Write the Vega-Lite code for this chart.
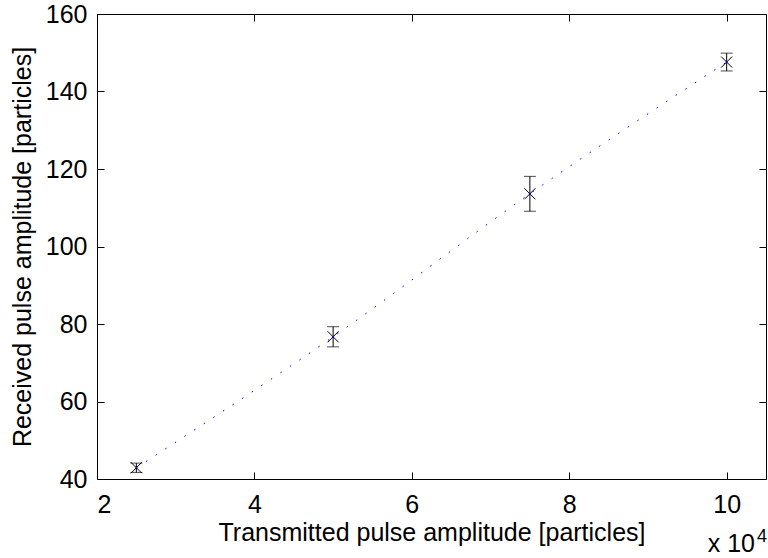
{
  "$schema": "https://vega.github.io/schema/vega-lite/v6.json",
  "width": 669,
  "height": 465,
  "autosize": "none",
  "padding": {"left": 97, "top": 14, "right": 2, "bottom": 79},
  "background": "white",
  "config": {
    "font": "Liberation Sans",
    "view": {"stroke": "black", "strokeWidth": 1},
    "text": {"fontWeight": "normal"},
    "axis": {
      "grid": false,
      "domain": false,
      "tickColor": "black",
      "tickSize": -7,
      "tickWidth": 1,
      "labelColor": "black",
      "labelFont": "Liberation Sans",
      "labelFontSize": 25,
      "titleColor": "black",
      "titleFont": "Liberation Sans",
      "titleFontSize": 25,
      "titleFontWeight": "normal"
    }
  },
  "datasets": {
    "pts": [
      {"transmitted": 25000, "received": 42.9, "lo": 41.7, "hi": 44.1},
      {"transmitted": 50000, "received": 76.7, "lo": 74.1, "hi": 79.3},
      {"transmitted": 75000, "received": 113.6, "lo": 109.1, "hi": 118.1},
      {"transmitted": 100000, "received": 147.6, "lo": 145.3, "hi": 149.9}
    ],
    "exponent": [
      {"label": "x 10", "power": "4"}
    ]
  },
  "data": {"name": "pts"},
  "resolve": {"axis": {"x": "independent", "y": "independent"}},
  "layer": [
    {
      "mark": {"type": "line", "color": "#0000ff", "strokeWidth": 1, "strokeDash": [1.5, 10], "interpolate": "monotone"},
      "encoding": {
        "x": {
          "field": "transmitted", "type": "quantitative",
          "scale": {"domain": [20000, 105000], "nice": false, "zero": false},
          "axis": {
            "orient": "bottom",
            "values": [20000, 40000, 60000, 80000, 100000],
            "labelExpr": "datum.value / 10000",
            "labelPadding": 20,
            "title": "Transmitted pulse amplitude [particles]",
            "titlePadding": 3
          }
        },
        "y": {
          "field": "received", "type": "quantitative",
          "scale": {"domain": [40, 160], "nice": false, "zero": false},
          "axis": {
            "orient": "left",
            "values": [40, 60, 80, 100, 120, 140, 160],
            "labelPadding": 17,
            "title": "Received pulse amplitude [particles]",
            "titlePadding": 10
          }
        }
      }
    },
    {
      "mark": {"type": "rule", "color": "black", "strokeWidth": 1},
      "encoding": {
        "x": {"field": "transmitted", "type": "quantitative", "axis": null},
        "y": {"field": "lo", "type": "quantitative", "axis": null},
        "y2": {"field": "hi"}
      }
    },
    {
      "mark": {"type": "tick", "orient": "horizontal", "color": "black", "size": 12, "thickness": 1},
      "encoding": {
        "x": {"field": "transmitted", "type": "quantitative", "axis": null},
        "y": {"field": "lo", "type": "quantitative", "axis": null}
      }
    },
    {
      "mark": {"type": "tick", "orient": "horizontal", "color": "black", "size": 12, "thickness": 1},
      "encoding": {
        "x": {"field": "transmitted", "type": "quantitative", "axis": null},
        "y": {"field": "hi", "type": "quantitative", "axis": null}
      }
    },
    {
      "mark": {"type": "point", "shape": "M-1,-1L1,1M-1,1L1,-1", "size": 121, "filled": false, "stroke": "black", "strokeWidth": 1, "opacity": 1},
      "encoding": {
        "x": {
          "field": "transmitted", "type": "quantitative",
          "axis": {"orient": "top", "values": [20000, 40000, 60000, 80000, 100000], "labels": false, "title": null}
        },
        "y": {
          "field": "received", "type": "quantitative",
          "axis": {"orient": "right", "values": [40, 60, 80, 100, 120, 140, 160], "labels": false, "title": null}
        }
      }
    },
    {
      "mark": {"type": "circle", "size": 4, "color": "#0000ff", "opacity": 1},
      "encoding": {
        "x": {"field": "transmitted", "type": "quantitative", "axis": null},
        "y": {"field": "received", "type": "quantitative", "axis": null}
      }
    },
    {
      "data": {"name": "exponent"},
      "mark": {"type": "text", "align": "right", "baseline": "alphabetic", "dx": -11, "dy": 73, "fontSize": 25, "fontWeight": "normal", "font": "Liberation Sans", "color": "black"},
      "encoding": {
        "text": {"field": "label"},
        "x": {"datum": 105000, "type": "quantitative", "axis": null},
        "y": {"datum": 40, "type": "quantitative", "axis": null}
      }
    },
    {
      "data": {"name": "exponent"},
      "mark": {"type": "text", "align": "left", "baseline": "alphabetic", "dx": -9, "dy": 63, "fontSize": 18, "fontWeight": "normal", "font": "Liberation Sans", "color": "black"},
      "encoding": {
        "text": {"field": "power"},
        "x": {"datum": 105000, "type": "quantitative", "axis": null},
        "y": {"datum": 40, "type": "quantitative", "axis": null}
      }
    }
  ]
}
